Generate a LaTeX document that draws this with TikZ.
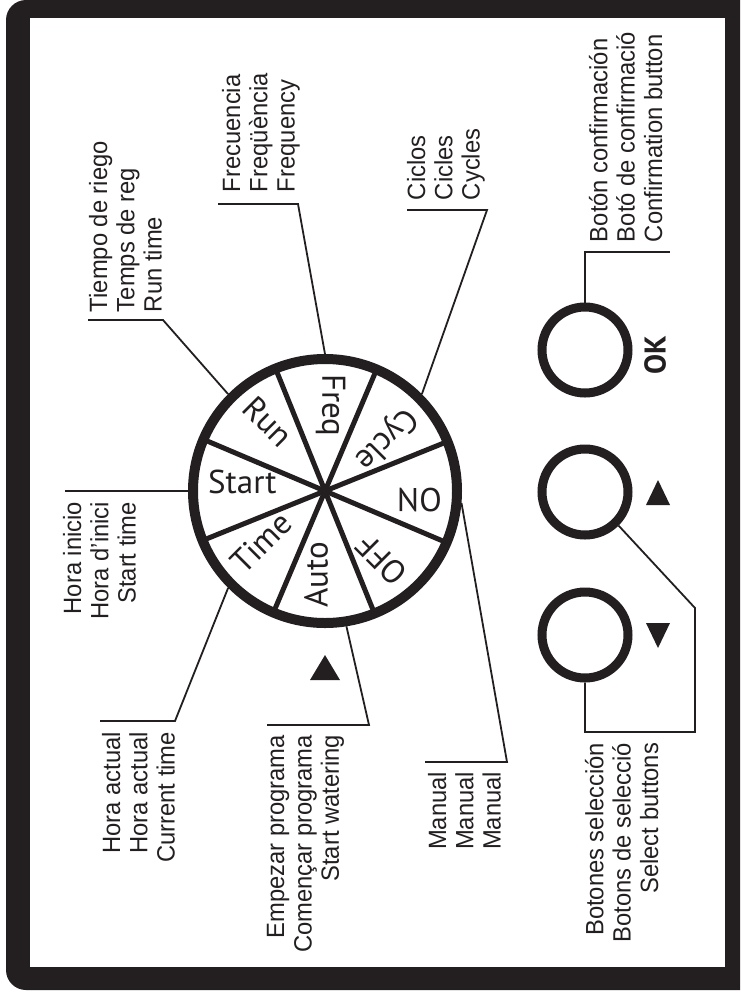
\documentclass[tikz,border=0pt]{standalone}
\usepackage{fontspec}
\setmainfont{Liberation Sans}[FakeStretch=0.95]
\newfontfamily\wheelfont{PT Sans}
\usetikzlibrary{calc}
\definecolor{ink}{HTML}{231F20}
\begin{document}
\begin{tikzpicture}[x=1pt,y=-1pt,
  lbl/.style={font=\fontsize{25}{27.3}\selectfont, inner sep=0pt, outer sep=0pt, rotate=90, text=ink},
  wl/.style={font=\wheelfont\fontsize{33}{33}\selectfont, inner sep=0pt, text=ink, anchor=mid west},
  lead/.style={draw=ink, line width=1.8pt},
  btn/.style={circle, draw=ink, line width=9pt, minimum size=86pt, inner sep=0pt},
  tri/.style={fill=ink}
]
\useasboundingbox (0,0) rectangle (740,994);
\clip (0,0) rectangle (740,994);
% frame
\fill[ink, rounded corners=20pt] (6,0) rectangle (780,990);
\fill[white] (30,18) rectangle (725,967);

% wheel
\node[circle, draw=ink, line width=10pt, minimum size=264pt, inner sep=0pt] (wheel) at (325,491) {};
\foreach \a in {22.5,67.5,...,337.5}
  \draw[ink, line width=5pt] (wheel.center) -- ($(wheel.center)!0.96!(wheel.\a)$);
\foreach \a/\t/\n in {90/Freq/lf, 45/Cycle/lc, 0/ON/lo, -45/OFF/loff, -90/Auto/la, -135/Time/lt, 180/Start/ls, 135/Run/lr}
  \node[wl, rotate=\a+180] (\n) at ($(wheel.center)!0.854!(wheel.\a)$) {\t};
\fill[tri] (325,655) -- (340,680) -- (310,680) -- cycle;

% buttons
\node[btn] (ok) at (585,350) {};
\node[btn] (up) at (585,492) {};
\node[btn] (down) at (585,635) {};
\node[font=\wheelfont\bfseries\fontsize{30}{30}\selectfont, text=ink, rotate=90, inner sep=0pt] (oklbl) at (655,355) {OK};
\fill[tri] (658,480) -- (670,505) -- (646,505) -- cycle;
\fill[tri] (658,648) -- (670,623) -- (646,623) -- cycle;

% labels
\node[lbl, align=left, anchor=north west] (trun) at (89,312) {Tiempo de riego\\Temps de reg\\Run time};
\node[lbl, align=left, anchor=north west] (tfreq) at (222,192) {Frecuencia\\Freqüència\\Frequency};
\node[lbl, align=left, anchor=north west] (tcyc) at (407,200) {Ciclos\\Cicles\\Cycles};
\node[lbl, align=left, anchor=north west] (tok) at (589,242) {Botón confirmación\\Botó de confirmació\\Confirmation button};
\node[lbl, align=right, anchor=north east] (tsel) at (585,743) {Botones selección\\Botons de selecció\\Select buttons};
\node[lbl, align=right, anchor=north east] (tman) at (428,772) {Manual\\Manual\\Manual};
\node[lbl, align=right, anchor=north east] (tstart) at (63,502) {Hora inicio\\Hora d'inici\\Start time};
\node[lbl, align=right, anchor=north east] (ttime) at (102,732) {Hora actual\\Hora actual\\Current time};
\node[lbl, align=right, anchor=north east] (tauto) at (267,735) {Empezar programa\\Començar programa\\Start watering};

% leader lines
\coordinate (r1) at (88,320); \coordinate (r2) at (163,320);
\draw[lead] (r1) -- (r2) -- (wheel.135);
\coordinate (f1) at (218,204); \coordinate (f2) at (298,204);
\draw[lead] (f1) -- (f2) -- (wheel.90);
\coordinate (c1) at (407,210); \coordinate (c2) at (487,210);
\draw[lead] (c1) -- (c2) -- (wheel.45);
\coordinate (k1) at (670,252); \coordinate (k2) at (585,252);
\draw[lead] (k1) -- (k2) -- (ok.north);
\coordinate (s1) at (695,608); \coordinate (s2) at (695,732); \coordinate (s3) at (585,732);
\draw[lead] (up.-45) -- (s1) -- (s2) -- (s3) -- (down.south);
\coordinate (m1) at (425,762); \coordinate (m2) at (507,762);
\draw[lead] (m1) -- (m2) -- (wheel.-5);
\coordinate (h1) at (65,491);
\draw[lead] (h1) -- (wheel.west);
\coordinate (a1) at (100,721); \coordinate (a2) at (175,721);
\draw[lead] (a1) -- (a2) -- (wheel.-135);
\coordinate (e1) at (267,725); \coordinate (e2) at (369,725);
\draw[lead] (e1) -- (e2) -- (wheel.-81);
\end{tikzpicture}
\end{document}
